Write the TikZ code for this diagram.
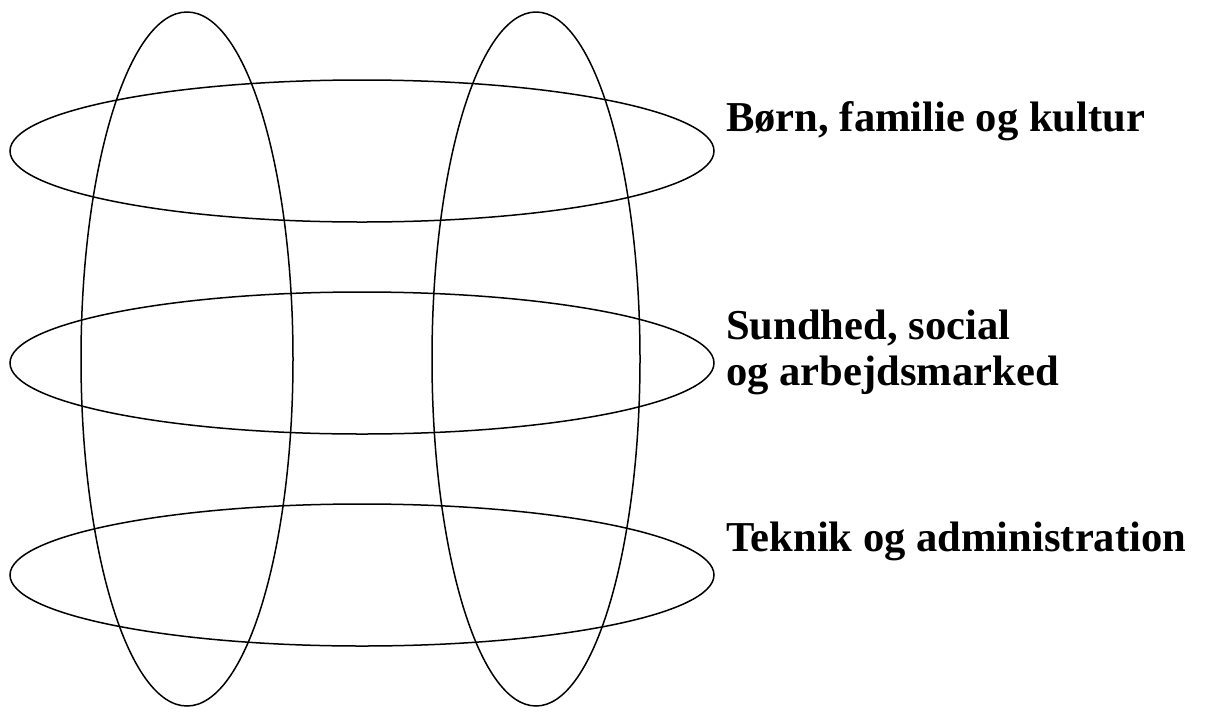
\documentclass[tikz,border=0pt]{standalone}
\usepackage{fontspec}
\setmainfont{Liberation Serif}

\begin{document}
\begin{tikzpicture}[x=1pt, y=-1pt, every node/.style={font=\fontsize{42.6}{46}\selectfont\bfseries}]
\tikzset{ring/.style={line width=1.5pt}}

\useasboundingbox (0,0) rectangle (1210,716);

% ============================
% Centres
% ============================
\coordinate (hTop) at (362,151);
\coordinate (hMid) at (362,363);
\coordinate (hBot) at (362,575);
\coordinate (vL) at (187,359);
\coordinate (vR) at (536,359);

% ============================
% Horizontal rings
% ============================
\foreach \c in {hTop,hMid,hBot}{
  \draw[ring] (\c) ellipse [x radius=352, y radius=71];
}

% ============================
% Vertical rings
% ============================
\draw[ring] (vL) ellipse [x radius=106, y radius=347];
\draw[ring] (vR) ellipse [x radius=104, y radius=347];

% ============================
% Labels
% ============================
\node[anchor=base west, inner sep=0pt] (lTop) at (726,131) {Børn, familie og kultur};
\node[anchor=base west, inner sep=0pt] (lMid) at (726,339) {Sundhed, social};
\node[anchor=base west, inner sep=0pt] (lMid2) at (726,385) {og arbejdsmarked};
\node[anchor=base west, inner sep=0pt] (lBot) at (726,551) {Teknik og administration};

\end{tikzpicture}
\end{document}
